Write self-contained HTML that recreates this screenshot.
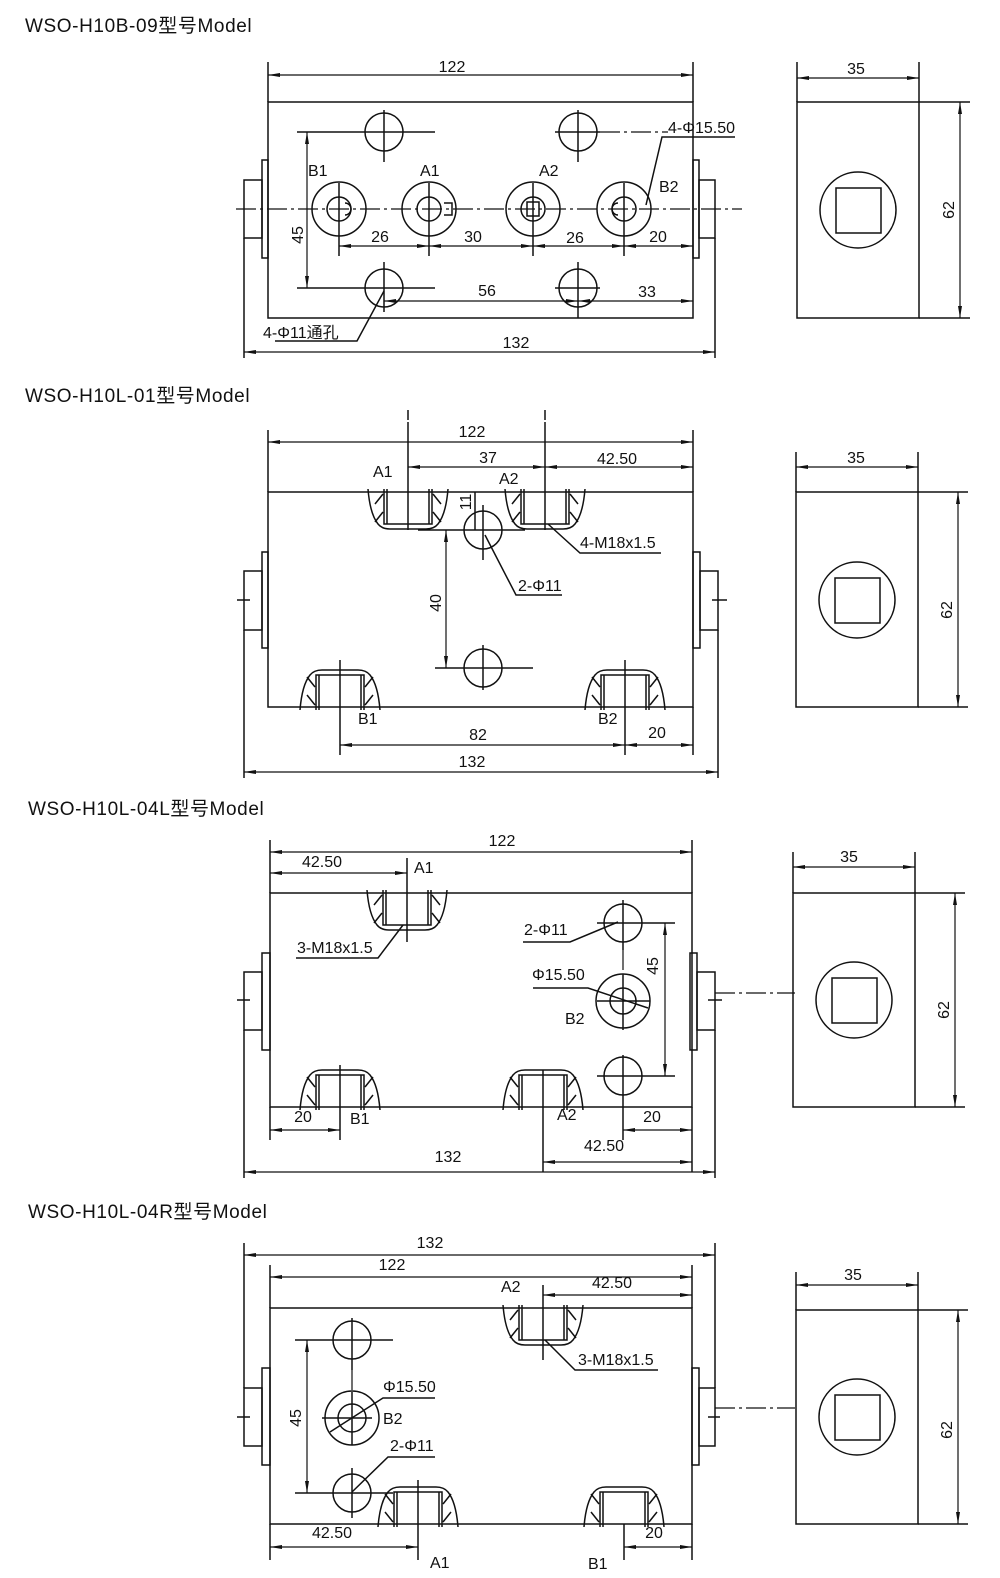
<!DOCTYPE html>
<html><head><meta charset="utf-8"><style>
html,body{margin:0;padding:0;background:#fff}
svg{display:block}
text{font-family:"Liberation Sans","Noto Sans CJK SC",sans-serif;font-size:16px;fill:#111}
.t{font-size:19px;letter-spacing:0.6px}
.l{stroke:#111;stroke-width:1.5;fill:none}
.c{stroke:#111;stroke-width:1.2;fill:none;stroke-dasharray:20 4 3 4}
.d{stroke:#111;stroke-width:1.2;fill:none;marker-start:url(#a);marker-end:url(#a)}
</style></head><body>
<svg width="1000" height="1578" viewBox="0 0 1000 1578" xmlns="http://www.w3.org/2000/svg">
<defs>
<marker id="a" viewBox="0 0 12 6" refX="12" refY="3" markerWidth="12" markerHeight="6" markerUnits="userSpaceOnUse" orient="auto-start-reverse"><path d="M0,1 L12,3 L0,5 Z" fill="#111"/></marker>
<g id="pt">
<path class="l" d="M-40,-3 Q-38,22 -30,32 Q-26,37 -18,37 H18 Q26,37 30,32 Q38,22 40,-3"/>
<path class="l" d="M-24,-3 V32 H24 V-3 M-21,-3 V32 M21,-3 V32"/>
<path class="l" d="M-33,12 L-25,2 M-33,30 L-25,20 M33,12 L25,2 M33,30 L25,20"/>
</g>
<g id="side">
<circle class="l" cx="0" cy="0" r="38"/><rect class="l" x="-22" y="-22" width="45" height="45"/>
</g>
</defs>

<!-- ===== Section 1 ===== -->
<text class="t" x="25" y="32">WSO-H10B-09型号Model</text>
<path class="l" d="M268,62V102 M693,62V102"/>
<line class="d" x1="268" y1="75" x2="693" y2="75"/><text x="452" y="72" text-anchor="middle">122</text>
<rect class="l" x="268" y="102" width="425" height="216"/>
<rect class="l" x="262" y="160" width="6" height="98"/><rect class="l" x="244" y="180" width="18" height="58"/>
<rect class="l" x="693" y="160" width="6" height="98"/><rect class="l" x="699" y="180" width="16" height="58"/>
<line class="c" x1="236" y1="209" x2="742" y2="209"/>
<path class="l" d="M244,238V358 M715,238V358"/>
<line class="d" x1="244" y1="352" x2="715" y2="352"/><text x="516" y="348" text-anchor="middle">132</text>
<g class="l">
<circle cx="339" cy="209" r="27"/><circle cx="339" cy="209" r="12"/>
<circle cx="429" cy="209" r="27"/><circle cx="429" cy="209" r="12"/>
<circle cx="533" cy="209" r="27"/><circle cx="533" cy="209" r="12"/>
<circle cx="624" cy="209" r="27"/><circle cx="624" cy="209" r="12"/>
<path d="M339,183V256 M429,183V256 M533,183V256 M624,183V256"/>
<path d="M444,203h8v12h-8 M527,202h12v14h-12z M345,203a6,6 0 1,1 0,12 M618,203a6,6 0 1,0 0,12"/>
<circle cx="384" cy="132" r="19"/><circle cx="578" cy="132" r="19"/>
<circle cx="384" cy="288" r="19"/><circle cx="578" cy="288" r="19"/>
<path d="M384,110V162 M578,110V162 M384,262V312 M578,262V318 M297,132H435 M297,288H435 M555,132H600 M555,288H600"/>
</g>
<line class="c" x1="600" y1="132" x2="668" y2="132"/>
<line class="d" x1="307" y1="132" x2="307" y2="288"/><text x="0" y="0" transform="translate(303,235) rotate(-90)" text-anchor="middle">45</text>
<line class="d" x1="339" y1="246" x2="429" y2="246"/><line class="d" x1="429" y1="246" x2="533" y2="246"/>
<line class="d" x1="533" y1="246" x2="624" y2="246"/><line class="d" x1="624" y1="246" x2="693" y2="246"/>
<text x="380" y="242" text-anchor="middle">26</text><text x="473" y="242" text-anchor="middle">30</text>
<text x="575" y="243" text-anchor="middle">26</text><text x="658" y="242" text-anchor="middle">20</text>
<line class="d" x1="384" y1="301" x2="578" y2="301"/><line class="d" x1="578" y1="301" x2="693" y2="301"/>
<text x="487" y="296" text-anchor="middle">56</text><text x="647" y="297" text-anchor="middle">33</text>
<text x="308" y="176">B1</text><text x="420" y="176">A1</text><text x="539" y="176">A2</text><text x="659" y="192">B2</text>
<path class="l" d="M735,137H662L646,205"/><text x="668" y="133">4-Φ15.50</text>
<path class="l" d="M275,341H357L384,291"/><text x="263" y="338">4-Φ11通孔</text>
<!-- side 1 -->
<rect class="l" x="797" y="102" width="122" height="216"/>
<path class="l" d="M797,62V102 M919,62V102 M919,102H970 M919,318H970"/>
<line class="d" x1="797" y1="78" x2="919" y2="78"/><text x="856" y="74" text-anchor="middle">35</text>
<line class="d" x1="960" y1="102" x2="960" y2="318"/><text transform="translate(954,210) rotate(-90)" text-anchor="middle">62</text>
<use href="#side" x="858" y="210"/>

<!-- ===== Section 2 ===== -->
<text class="t" x="25" y="402">WSO-H10L-01型号Model</text>
<path class="l" d="M408,410V420 M545,410V420"/>
<path class="l" d="M268,430V492 M693,430V492 M408,422V530 M545,422V530"/>
<line class="d" x1="268" y1="442" x2="693" y2="442"/><text x="472" y="437" text-anchor="middle">122</text>
<line class="d" x1="408" y1="467" x2="545" y2="467"/><text x="488" y="463" text-anchor="middle">37</text>
<line class="d" x1="545" y1="467" x2="693" y2="467"/><text x="617" y="464" text-anchor="middle">42.50</text>
<rect class="l" x="268" y="492" width="425" height="215"/>
<rect class="l" x="262" y="552" width="6" height="96"/><rect class="l" x="244" y="571" width="18" height="59"/>
<rect class="l" x="693" y="552" width="7" height="96"/><rect class="l" x="700" y="571" width="18" height="59"/>
<path class="l" d="M237,600H250 M712,600H727"/>
<use href="#pt" transform="translate(408,492)"/><use href="#pt" transform="translate(545,492)"/>
<use href="#pt" transform="translate(340,707) scale(1,-1)"/><use href="#pt" transform="translate(625,707) scale(1,-1)"/>
<g class="l">
<circle cx="483" cy="530" r="19"/><circle cx="483" cy="668" r="19"/>
<path d="M418,530H525 M435,668H533 M483,505V560 M483,645V690 M475,492V530"/>
<path d="M340,660V755 M625,660V755 M693,707V755"/>
<path d="M244,630V778 M718,630V778"/>
</g>
<line class="d" x1="446" y1="530" x2="446" y2="668"/><text transform="translate(441,603) rotate(-90)" text-anchor="middle">40</text>
<text transform="translate(471,502) rotate(-90)" text-anchor="middle">11</text>
<line class="d" x1="340" y1="745" x2="625" y2="745"/><text x="478" y="740" text-anchor="middle">82</text>
<line class="d" x1="625" y1="745" x2="693" y2="745"/><text x="657" y="738" text-anchor="middle">20</text>
<line class="d" x1="244" y1="772" x2="718" y2="772"/><text x="472" y="767" text-anchor="middle">132</text>
<text x="373" y="477">A1</text><text x="499" y="484">A2</text><text x="358" y="724">B1</text><text x="598" y="724">B2</text>
<path class="l" d="M548,524L580,553H661"/><text x="580" y="548">4-M18x1.5</text>
<path class="l" d="M485,535L516,595H562"/><text x="518" y="591">2-Φ11</text>
<!-- side 2 -->
<rect class="l" x="796" y="492" width="122" height="215"/>
<path class="l" d="M796,452V492 M918,452V492 M918,492H968 M918,707H968"/>
<line class="d" x1="796" y1="467" x2="918" y2="467"/><text x="856" y="463" text-anchor="middle">35</text>
<line class="d" x1="958" y1="492" x2="958" y2="707"/><text transform="translate(952,610) rotate(-90)" text-anchor="middle">62</text>
<use href="#side" x="857" y="600"/>

<!-- ===== Section 3 ===== -->
<text class="t" x="28" y="815">WSO-H10L-04L型号Model</text>
<path class="l" d="M270,840V893 M692,840V893 M407,858V942"/>
<line class="d" x1="270" y1="852" x2="692" y2="852"/><text x="502" y="846" text-anchor="middle">122</text>
<line class="d" x1="270" y1="873" x2="407" y2="873"/><text x="322" y="867" text-anchor="middle">42.50</text>
<text x="414" y="873">A1</text>
<rect class="l" x="270" y="893" width="422" height="214"/>
<rect class="l" x="262" y="953" width="8" height="97"/><rect class="l" x="244" y="972" width="18" height="58"/>
<rect class="l" x="690" y="953" width="7" height="97"/><rect class="l" x="697" y="972" width="18" height="58"/>
<path class="l" d="M237,1000H250 M708,1000H722"/>
<line class="c" x1="715" y1="993" x2="795" y2="993"/>
<use href="#pt" transform="translate(407,893)"/>
<use href="#pt" transform="translate(340,1107) scale(1,-1)"/><use href="#pt" transform="translate(543,1107) scale(1,-1)"/>
<g class="l">
<circle cx="623" cy="923" r="19"/><circle cx="623" cy="1076" r="19"/>
<circle cx="623" cy="1001" r="27"/><circle cx="623" cy="1001" r="13"/>
<path d="M597,923H675 M597,1076H675 M597,1001H650 M623,900V950 M623,975V1030 M623,1055V1140"/>
<path d="M270,1107V1140 M340,1065V1140 M692,1107V1172 M543,1070V1172 M244,1030V1178 M715,1030V1178"/>
</g>
<line class="c" x1="623" y1="950" x2="623" y2="975"/>
<line class="d" x1="665" y1="923" x2="665" y2="1076"/><text transform="translate(658,966) rotate(-90)" text-anchor="middle">45</text>
<line class="d" x1="270" y1="1130" x2="340" y2="1130"/><text x="303" y="1122" text-anchor="middle">20</text>
<line class="d" x1="623" y1="1130" x2="692" y2="1130"/><text x="652" y="1122" text-anchor="middle">20</text>
<line class="d" x1="543" y1="1162" x2="692" y2="1162"/><text x="604" y="1151" text-anchor="middle">42.50</text>
<line class="d" x1="244" y1="1172" x2="715" y2="1172"/><text x="448" y="1162" text-anchor="middle">132</text>
<text x="350" y="1124">B1</text><text x="557" y="1120">A2</text><text x="565" y="1024">B2</text>
<path class="l" d="M296,958H378L403,925"/><text x="297" y="953">3-M18x1.5</text>
<path class="l" d="M523,942H570L618,922"/><text x="524" y="935">2-Φ11</text>
<path class="l" d="M533,988H588L648,1008"/><text x="532" y="980">Φ15.50</text>
<!-- side 3 -->
<rect class="l" x="793" y="893" width="122" height="214"/>
<path class="l" d="M793,852V893 M915,852V893 M915,893H965 M915,1107H965"/>
<line class="d" x1="793" y1="867" x2="915" y2="867"/><text x="849" y="862" text-anchor="middle">35</text>
<line class="d" x1="955" y1="893" x2="955" y2="1107"/><text transform="translate(949,1010) rotate(-90)" text-anchor="middle">62</text>
<use href="#side" x="854" y="1000"/>

<!-- ===== Section 4 ===== -->
<text class="t" x="28" y="1218">WSO-H10L-04R型号Model</text>
<path class="l" d="M244,1243V1388 M715,1243V1388 M270,1265V1308 M692,1265V1308 M543,1285V1360"/>
<line class="d" x1="244" y1="1255" x2="715" y2="1255"/><text x="430" y="1248" text-anchor="middle">132</text>
<line class="d" x1="270" y1="1277" x2="692" y2="1277"/><text x="392" y="1270" text-anchor="middle">122</text>
<line class="d" x1="543" y1="1295" x2="692" y2="1295"/><text x="612" y="1288" text-anchor="middle">42.50</text>
<text x="501" y="1292">A2</text>
<rect class="l" x="270" y="1308" width="422" height="216"/>
<rect class="l" x="262" y="1368" width="8" height="97"/><rect class="l" x="244" y="1388" width="18" height="58"/>
<rect class="l" x="692" y="1368" width="7" height="97"/><rect class="l" x="699" y="1388" width="16" height="58"/>
<path class="l" d="M237,1417H250 M708,1417H720"/>
<line class="c" x1="715" y1="1408" x2="795" y2="1408"/>
<use href="#pt" transform="translate(543,1308)"/>
<use href="#pt" transform="translate(418,1524) scale(1,-1)"/><use href="#pt" transform="translate(624,1524) scale(1,-1)"/>
<g class="l">
<circle cx="352" cy="1340" r="19"/><circle cx="352" cy="1493" r="19"/>
<circle cx="352" cy="1418" r="27"/><circle cx="352" cy="1418" r="14"/>
<path d="M295,1340H393 M295,1493H393 M322,1418H372 M352,1318V1370 M352,1392V1445 M352,1468V1518"/>
<path d="M270,1524V1560 M418,1480V1560 M624,1524V1560 M692,1524V1560"/>
</g>
<line class="c" x1="352" y1="1370" x2="352" y2="1392"/>
<line class="d" x1="307" y1="1340" x2="307" y2="1493"/><text transform="translate(301,1418) rotate(-90)" text-anchor="middle">45</text>
<line class="d" x1="270" y1="1547" x2="418" y2="1547"/><text x="332" y="1538" text-anchor="middle">42.50</text>
<line class="d" x1="624" y1="1547" x2="692" y2="1547"/><text x="654" y="1538" text-anchor="middle">20</text>
<text x="430" y="1568">A1</text><text x="588" y="1569">B1</text>
<path class="l" d="M435,1398H383L330,1432"/><text x="383" y="1392">Φ15.50</text>
<text x="383" y="1424">B2</text>
<path class="l" d="M435,1457H388L352,1492"/><text x="390" y="1451">2-Φ11</text>
<path class="l" d="M545,1340L575,1370H658"/><text x="578" y="1365">3-M18x1.5</text>
<!-- side 4 -->
<rect class="l" x="796" y="1310" width="122" height="214"/>
<path class="l" d="M796,1272V1310 M918,1272V1310 M918,1310H968 M918,1524H968"/>
<line class="d" x1="796" y1="1285" x2="918" y2="1285"/><text x="853" y="1280" text-anchor="middle">35</text>
<line class="d" x1="958" y1="1310" x2="958" y2="1524"/><text transform="translate(952,1430) rotate(-90)" text-anchor="middle">62</text>
<use href="#side" x="857" y="1417"/>
</svg>
</body></html>
